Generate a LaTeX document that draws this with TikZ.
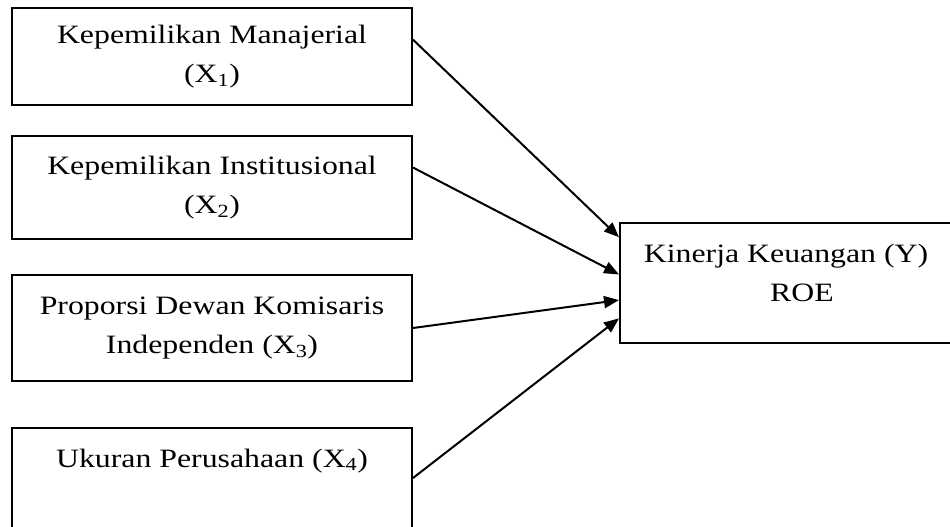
\documentclass[tikz,border=0pt]{standalone}
\usepackage{fontspec}
\setmainfont{Liberation Serif}[FakeStretch=1.2]
\usetikzlibrary{arrows.meta,positioning,calc}

\begin{document}
\begin{tikzpicture}[
  x=1pt, y=1pt,
  box/.style={draw, line width=2pt, inner sep=8pt, minimum width=400pt, align=center,
    font=\fontsize{26.5}{39}\selectfont},
  target/.style={box, minimum width=332pt},
  arrow/.style={-{Triangle[length=15pt, width=12pt]}, line width=2pt}
]
\useasboundingbox (0,0) rectangle (950,-527);

\node[box, minimum height=97pt, anchor=north west] (b1) at (11,-7) {Kepemilikan Manajerial\\(X\textsubscript{1})};
\node[box, minimum height=103pt, below=29pt of b1] (b2) {Kepemilikan Institusional\\(X\textsubscript{2})};
\node[box, minimum height=106pt, below=34pt of b2] (b3) {Proporsi Dewan Komisaris\\Independen (X\textsubscript{3})};
\node[box, minimum height=140pt, text height=27pt, text depth=89pt, below=45pt of b3] (b4) {Ukuran Perusahaan (X\textsubscript{4})};
\node[target, text height=70pt, text depth=34pt, anchor=north west] (y) at (619,-222) {Kinerja Keuangan (Y)\\\hspace*{32pt}ROE};

\draw[arrow] ($(b1.north east)!.33!(b1.south east)$) -- ($(y.north west)!.125!(y.south west)$);
\draw[arrow] ($(b2.north east)!.31!(b2.south east)$) -- ($(y.north west)!.43!(y.south west)$);
\draw[arrow] (b3.east) -- ($(y.north west)!.64!(y.south west)$);
\draw[arrow] ([yshift=-51pt]b4.north east) -- ($(y.north west)!.79!(y.south west)$);
\end{tikzpicture}
\end{document}
